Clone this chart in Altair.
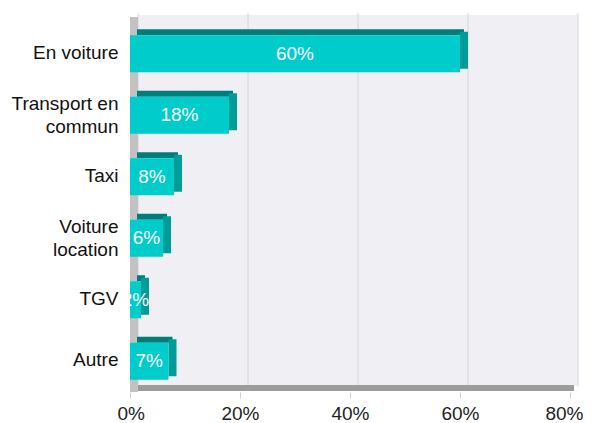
import altair as alt
import pandas as pd

NB = "\u00a0"
categories = ["En voiture", "Transport en\ncommun" + NB * 3, "Taxi",
              "Voiture" + NB * 2 + "\nlocation", "TGV", "Autre"]
values = [60, 18, 8, 6, 2, 7]
tick_values = [0, 20, 40, 60, 80]

df = pd.DataFrame({"cat": categories, "val": values})
ticks = pd.DataFrame({"t": tick_values})
one = pd.DataFrame({"k": [0]})

W, H = 440, 369
FONT = "Liberation Sans"

xs = alt.Scale(domain=[0, 80], nice=False, zero=True)
ys = alt.Scale(domain=categories, paddingInner=0.4, paddingOuter=0.2)

xaxis = alt.Axis(values=tick_values, labelExpr="datum.value + '%'", grid=False,
                 domain=False, ticks=True, tickColor="#d0d0d8", tickSize=6,
                 labelPadding=6, labelFontSize=19, labelColor="#222222",
                 labelFont=FONT, labelFlush=True, labelFlushOffset=13, title=None)
yaxis = alt.Axis(labelExpr="split(datum.label, '\\n')", ticks=False, domain=False,
                 labelFontSize=19, labelColor="#111111", labelFont=FONT,
                 labelPadding=12, labelAlign="right", labelBaseline="middle",
                 labelOffset={"condition": {"test": "indexof(datum.label, '\\n') >= 0",
                                            "value": -11.5}, "value": -1},
                 labelLineHeight=23, labelLimit=300, title=None)

back = alt.Chart(one).mark_rect(color="#efeff4", xOffset=8, x2Offset=8).encode(
    x=alt.X(datum=0, type="quantitative", scale=xs, axis=xaxis),
    x2=alt.X2(datum=80),
    y=alt.value(-8), y2=alt.value(363))

grid = alt.Chart(ticks).mark_rule(color="#d4d4de", strokeWidth=1, xOffset=8).encode(
    x=alt.X("t:Q", scale=xs, axis=xaxis),
    y=alt.value(-10), y2=alt.value(363))

floor = alt.Chart(one).mark_rect(color="#9c9c9c", xOffset=8, x2Offset=4).encode(
    x=alt.X(datum=0, type="quantitative", scale=xs, axis=xaxis),
    x2=alt.X2(datum=80),
    y=alt.value(362), y2=alt.value(368))

leftwall = alt.Chart(one).mark_rect(color="#c2c2c2", x2Offset=8).encode(
    x=alt.X(datum=0, type="quantitative", scale=xs, axis=xaxis),
    x2=alt.X2(datum=0),
    y=alt.value(-6), y2=alt.value(369))

base = alt.Chart(df)

top = base.mark_bar(color="#007d7b", height=6, yOffset=-21.5, xOffset=4, x2Offset=7).encode(
    x=alt.X("val:Q", scale=xs, axis=xaxis),
    x2=alt.X2(datum=0),
    y=alt.Y("cat:N", scale=ys, axis=yaxis))

side = base.mark_bar(color="#009c99", height=37, yOffset=-3.5, x2Offset=8).encode(
    x=alt.X("val:Q", scale=xs, axis=xaxis),
    x2=alt.X2("val:Q"),
    y=alt.Y("cat:N", scale=ys, axis=yaxis))

front = base.mark_bar(color="#00cccc").encode(
    x=alt.X("val:Q", scale=xs, axis=xaxis),
    y=alt.Y("cat:N", scale=ys, axis=yaxis))

labels = base.transform_calculate(
    mid="datum.val / 2", txt="datum.val + '%'"
).mark_text(color="white", fontSize=19, font=FONT, clip=True, align="center",
            baseline="middle").encode(
    x=alt.X("mid:Q", scale=xs, axis=xaxis),
    y=alt.Y("cat:N", scale=ys, axis=yaxis),
    text="txt:N")

chart = alt.layer(back, grid, floor, leftwall, top, side, front, labels).properties(
    width=W, height=H,
    autosize=alt.AutoSizeParams(type="none"),
    padding={"left": 122, "top": 15, "right": 13, "bottom": 31},
).configure_view(stroke=None)

chart.save("out.html", embed_options={"renderer": "svg", "actions": False})
